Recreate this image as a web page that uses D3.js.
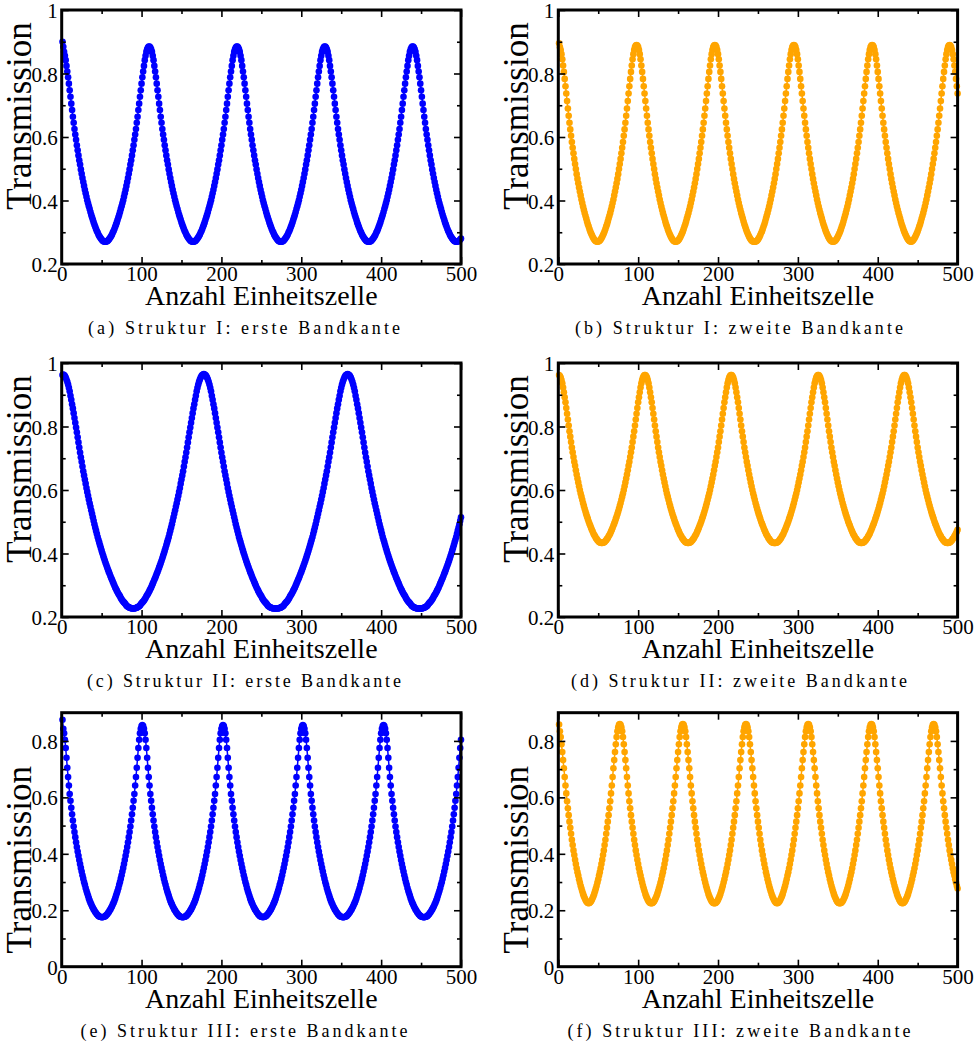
<!DOCTYPE html>
<html><head><meta charset="utf-8">
<script src="https://cdn.jsdelivr.net/npm/d3@7"></script>
<style>body{margin:0;background:#fff}svg{display:block}</style>
</head><body>
<svg id="fig" width="974" height="1048"></svg>
<script>
// Transmission (x1000) for unit-cell counts N = 1..500, one array per panel.
const transA = [900,884,868,856,842,824,806,788,768,747,727,705,685,664,645,625,608,591,574,558,542,527,513,498,484,471,458,446,434,423,412,401,391,382,373,364,355,347,339,331,324,317,310,304,299,293,288,284,280,277,274,272,271,270,
270,271,272,274,277,280,284,288,293,299,304,310,317,324,331,339,347,355,364,373,382,391,401,412,423,434,446,458,471,484,498,513,527,542,558,574,591,608,625,645,664,685,705,727,747,768,788,806,824,842,856,868,876,882,885,
885,882,876,868,856,842,824,806,788,768,747,727,705,685,664,645,625,608,591,574,558,542,527,513,498,484,471,458,446,434,423,412,401,391,382,373,364,355,347,339,331,324,317,310,304,299,293,288,284,280,277,274,272,271,270,
270,271,272,274,277,280,284,288,293,299,304,310,317,324,331,339,347,355,364,373,382,391,401,412,423,434,446,458,471,484,498,513,527,542,558,574,591,608,625,645,664,685,705,727,747,768,788,806,824,842,856,868,876,882,885,
885,882,876,868,856,842,824,806,788,768,747,727,705,685,664,645,625,608,591,574,558,542,527,513,498,484,471,458,446,434,423,412,401,391,382,373,364,355,347,339,331,324,317,310,304,299,293,288,284,280,277,274,272,271,270,
270,271,272,274,277,280,284,288,293,299,304,310,317,324,331,339,347,355,364,373,382,391,401,412,423,434,446,458,471,484,498,513,527,542,558,574,591,608,625,645,664,685,705,727,747,768,788,806,824,842,856,868,876,882,885,
885,882,876,868,856,842,824,806,788,768,747,727,705,685,664,645,625,608,591,574,558,542,527,513,498,484,471,458,446,434,423,412,401,391,382,373,364,355,347,339,331,324,317,310,304,299,293,288,284,280,277,274,272,271,270,
270,271,272,274,277,280,284,288,293,299,304,310,317,324,331,339,347,355,364,373,382,391,401,412,423,434,446,458,471,484,498,513,527,542,558,574,591,608,625,645,664,685,705,727,747,768,788,806,824,842,856,868,876,882,885,
885,882,876,868,856,842,824,806,788,768,747,727,705,685,664,645,625,608,591,574,558,542,527,513,498,484,471,458,446,434,423,412,401,391,382,373,364,355,347,339,331,324,317,310,304,299,293,288,284,280,277,274,272,271,270,
270,271,272,274,277,280];

const transB = [895,883,874,861,845,825,805,783,760,737,713,690,667,645,624,604,584,566,549,531,515,499,483,468,454,441,428,416,403,392,381,371,361,352,343,334,325,318,310,303,297,291,286,281,277,274,272,271,270,
271,272,274,277,281,286,291,297,303,310,318,325,334,343,352,361,371,381,392,403,416,428,441,454,468,483,499,515,531,549,566,584,604,624,645,667,690,713,737,760,783,805,825,845,861,874,883,888,890,
888,883,874,861,845,825,805,783,760,737,713,690,667,645,624,604,584,566,549,531,515,499,483,468,454,441,428,416,403,392,381,371,361,352,343,334,325,318,310,303,297,291,286,281,277,274,272,271,270,
271,272,274,277,281,286,291,297,303,310,318,325,334,343,352,361,371,381,392,403,416,428,441,454,468,483,499,515,531,549,566,584,604,624,645,667,690,713,737,760,783,805,825,845,861,874,883,888,890,
888,883,874,861,845,825,805,783,760,737,713,690,667,645,624,604,584,566,549,531,515,499,483,468,454,441,428,416,403,392,381,371,361,352,343,334,325,318,310,303,297,291,286,281,277,274,272,271,270,
270,271,272,274,277,281,286,291,297,303,310,318,325,334,343,352,361,371,381,392,403,416,428,441,454,468,483,499,515,531,549,566,584,604,624,645,667,690,713,737,760,783,805,825,845,861,874,883,888,890,
888,883,874,861,845,825,805,783,760,737,713,690,667,645,624,604,584,566,549,531,515,499,483,468,454,441,428,416,403,392,381,371,361,352,343,334,325,318,310,303,297,291,286,281,277,274,272,271,270,
271,272,274,277,281,286,291,297,303,310,318,325,334,343,352,361,371,381,392,403,416,428,441,454,468,483,499,515,531,549,566,584,604,624,645,667,690,713,737,760,783,805,825,845,861,874,883,888,890,
888,883,874,861,845,825,805,783,760,737,713,690,667,645,624,604,584,566,549,531,515,499,483,468,454,441,428,416,403,392,381,371,361,352,343,334,325,318,310,303,297,291,286,281,277,274,272,271,270,
272,274,277,281,286,291,297,303,310,318,325,334,343,352,361,371,381,392,403,416,428,441,454,468,483,499,515,531,549,566,584,604,624,645,667,690,713,737,760,783,805,825,845,861,874,883,888,890,
888,883,874,861,845,825,805,783,760,737];

const transC = [962,
964,962,959,954,948,941,932,922,911,897,884,870,857,842,827,812,797,782,766,750,734,718,703,689,674,659,646,633,620,606,594,582,570,558,547,536,525,514,503,492,482,472,462,452,443,435,426,417,409,401,393,385,377,370,363,356,349,342,336,329,323,317,311,305,299,293,288,283,278,273,269,265,260,256,252,249,246,243,240,236,234,232,231,229,228,228,227,227,
227,227,228,228,229,231,232,234,236,240,243,246,249,252,256,260,265,269,273,278,283,288,293,299,305,311,317,323,329,336,342,349,356,363,370,377,385,393,401,409,417,426,435,443,452,462,472,482,492,503,514,525,536,547,558,570,582,594,606,620,633,646,659,674,689,703,718,734,750,766,782,797,812,827,842,857,870,884,897,911,922,932,941,948,954,959,962,964,965,
964,962,959,954,948,941,932,922,911,897,884,870,857,842,827,812,797,782,766,750,734,718,703,689,674,659,646,633,620,606,594,582,570,558,547,536,525,514,503,492,482,472,462,452,443,435,426,417,409,401,393,385,377,370,363,356,349,342,336,329,323,317,311,305,299,293,288,283,278,273,269,265,260,256,252,249,246,243,240,236,234,232,231,229,228,228,227,227,227,227,
227,227,227,228,228,229,231,232,234,236,240,243,246,249,252,256,260,265,269,273,278,283,288,293,299,305,311,317,323,329,336,342,349,356,363,370,377,385,393,401,409,417,426,435,443,452,462,472,482,492,503,514,525,536,547,558,570,582,594,606,620,633,646,659,674,689,703,718,734,750,766,782,797,812,827,842,857,870,884,897,911,922,932,941,948,954,959,962,964,965,
964,962,959,954,948,941,932,922,911,897,884,870,857,842,827,812,797,782,766,750,734,718,703,689,674,659,646,633,620,606,594,582,570,558,547,536,525,514,503,492,482,472,462,452,443,435,426,417,409,401,393,385,377,370,363,356,349,342,336,329,323,317,311,305,299,293,288,283,278,273,269,265,260,256,252,249,246,243,240,236,234,232,231,229,228,228,227,227,227,227,
227,227,227,228,228,229,231,232,234,236,240,243,246,249,252,256,260,265,269,273,278,283,288,293,299,305,311,317,323,329,336,342,349,356,363,370,377,385,393,401,409,417,426,435,443,452,462,472,482,492,503,514];

const transD = [962,959,954,946,936,923,908,892,876,858,840,822,803,785,768,751,734,719,704,689,676,662,649,636,624,612,600,589,579,569,559,550,541,532,524,516,509,501,494,488,481,475,469,463,458,454,449,446,442,439,436,435,434,433,
433,434,435,436,439,442,446,449,454,458,463,469,475,481,488,494,501,509,516,524,532,541,550,559,569,579,589,600,612,624,636,649,662,676,689,704,719,734,751,768,785,803,822,840,858,876,892,908,923,936,946,954,959,962,
962,959,954,946,936,923,908,892,876,858,840,822,803,785,768,751,734,719,704,689,676,662,649,636,624,612,600,589,579,569,559,550,541,532,524,516,509,501,494,488,481,475,469,463,458,454,449,446,442,439,436,435,434,433,
433,434,435,436,439,442,446,449,454,458,463,469,475,481,488,494,501,509,516,524,532,541,550,559,569,579,589,600,612,624,636,649,662,676,689,704,719,734,751,768,785,803,822,840,858,876,892,908,923,936,946,954,959,962,
962,959,954,946,936,923,908,892,876,858,840,822,803,785,768,751,734,719,704,689,676,662,649,636,624,612,600,589,579,569,559,550,541,532,524,516,509,501,494,488,481,475,469,463,458,454,449,446,442,439,436,435,434,433,433,
433,434,435,436,439,442,446,449,454,458,463,469,475,481,488,494,501,509,516,524,532,541,550,559,569,579,589,600,612,624,636,649,662,676,689,704,719,734,751,768,785,803,822,840,858,876,892,908,923,936,946,954,959,962,
962,959,954,946,936,923,908,892,876,858,840,822,803,785,768,751,734,719,704,689,676,662,649,636,624,612,600,589,579,569,559,550,541,532,524,516,509,501,494,488,481,475,469,463,458,454,449,446,442,439,436,435,434,433,
433,434,435,436,439,442,446,449,454,458,463,469,475,481,488,494,501,509,516,524,532,541,550,559,569,579,589,600,612,624,636,649,662,676,689,704,719,734,751,768,785,803,822,840,858,876,892,908,923,936,946,954,959,962,
962,959,954,946,936,923,908,892,876,858,840,822,803,785,768,751,734,719,704,689,676,662,649,636,624,612,600,589,579,569,559,550,541,532,524,516,509,501,494,488,481,475,469,463,458,454,449,446,442,439,436,435,434,433,
433,434,435,436,439,442,446,449,454,458,463,469,475];

const transE = [875,843,827,804,775,740,705,672,642,612,588,563,540,518,497,477,459,441,424,408,393,378,364,350,337,324,312,300,290,279,269,260,251,242,234,227,221,214,209,203,199,194,190,186,183,180,178,177,176,175,
175,176,177,178,180,183,186,190,194,199,203,209,214,221,227,234,242,251,260,269,279,290,300,312,324,337,350,364,378,393,408,424,441,459,477,497,518,540,563,588,612,642,672,705,740,775,804,827,843,853,856,
853,843,827,804,775,740,705,672,642,612,588,563,540,518,497,477,459,441,424,408,393,378,364,350,337,324,312,300,290,279,269,260,251,242,234,227,221,214,209,203,199,194,190,186,183,180,178,177,176,175,
175,176,177,178,180,183,186,190,194,199,203,209,214,221,227,234,242,251,260,269,279,290,300,312,324,337,350,364,378,393,408,424,441,459,477,497,518,540,563,588,612,642,672,705,740,775,804,827,843,853,856,
853,843,827,804,775,740,705,672,642,612,588,563,540,518,497,477,459,441,424,408,393,378,364,350,337,324,312,300,290,279,269,260,251,242,234,227,221,214,209,203,199,194,190,186,183,180,178,177,176,175,
176,177,178,180,183,186,190,194,199,203,209,214,221,227,234,242,251,260,269,279,290,300,312,324,337,350,364,378,393,408,424,441,459,477,497,518,540,563,588,612,642,672,705,740,775,804,827,843,853,856,
853,843,827,804,775,740,705,672,642,612,588,563,540,518,497,477,459,441,424,408,393,378,364,350,337,324,312,300,290,279,269,260,251,242,234,227,221,214,209,203,199,194,190,186,183,180,178,177,176,175,
175,176,177,178,180,183,186,190,194,199,203,209,214,221,227,234,242,251,260,269,279,290,300,312,324,337,350,364,378,393,408,424,441,459,477,497,518,540,563,588,612,642,672,705,740,775,804,827,843,853,856,
853,843,827,804,775,740,705,672,642,612,588,563,540,518,497,477,459,441,424,408,393,378,364,350,337,324,312,300,290,279,269,260,251,242,234,227,221,214,209,203,199,194,190,186,183,180,178,177,176,175,
175,176,177,178,180,183,186,190,194,199,203,209,214,221,227,234,242,251,260,269,279,290,300,312,324,337,350,364,378,393,408,424,441,459,477,497,518,540,563,588,612,642,672,705,740,775,804];

const transF = [858,834,814,788,761,732,703,672,642,614,586,561,537,514,492,471,450,431,412,396,379,364,349,335,323,310,298,287,277,267,258,250,243,237,232,228,226,225,
226,228,232,237,243,250,258,267,277,287,298,310,323,335,349,364,379,396,412,431,450,471,492,514,537,561,586,614,642,672,703,732,761,788,814,834,848,857,860,
857,848,834,814,788,761,732,703,672,642,614,586,561,537,514,492,471,450,431,412,396,379,364,349,335,323,310,298,287,277,267,258,250,243,237,232,228,226,225,
225,226,228,232,237,243,250,258,267,277,287,298,310,323,335,349,364,379,396,412,431,450,471,492,514,537,561,586,614,642,672,703,732,761,788,814,834,848,857,860,
857,848,834,814,788,761,732,703,672,642,614,586,561,537,514,492,471,450,431,412,396,379,364,349,335,323,310,298,287,277,267,258,250,243,237,232,228,226,225,
225,226,228,232,237,243,250,258,267,277,287,298,310,323,335,349,364,379,396,412,431,450,471,492,514,537,561,586,614,642,672,703,732,761,788,814,834,848,857,860,
857,848,834,814,788,761,732,703,672,642,614,586,561,537,514,492,471,450,431,412,396,379,364,349,335,323,310,298,287,277,267,258,250,243,237,232,228,226,225,
226,228,232,237,243,250,258,267,277,287,298,310,323,335,349,364,379,396,412,431,450,471,492,514,537,561,586,614,642,672,703,732,761,788,814,834,848,857,860,
857,848,834,814,788,761,732,703,672,642,614,586,561,537,514,492,471,450,431,412,396,379,364,349,335,323,310,298,287,277,267,258,250,243,237,232,228,226,225,
225,226,228,232,237,243,250,258,267,277,287,298,310,323,335,349,364,379,396,412,431,450,471,492,514,537,561,586,614,642,672,703,732,761,788,814,834,848,857,860,
857,848,834,814,788,761,732,703,672,642,614,586,561,537,514,492,471,450,431,412,396,379,364,349,335,323,310,298,287,277,267,258,250,243,237,232,228,226,225,
226,228,232,237,243,250,258,267,277,287,298,310,323,335,349,364,379,396,412,431,450,471,492,514,537,561,586,614,642,672,703,732,761,788,814,834,848,857,860,
857,848,834,814,788,761,732,703,672,642,614,586,561,537,514,492,471,450,431,412,396,379,364,349,335,323,310,298,287,277];

// Axis ticks and labels
const xTicks = [0, 100, 200, 300, 400, 500];
const xMinorTicks = [50, 150, 250, 350, 450];
const yTicksUpper = [0.2, 0.4, 0.6, 0.8, 1];
const yLabelsUpper = ["0.2", "0.4", "0.6", "0.8", "1"];
const yMinorUpper = [0.3, 0.5, 0.7, 0.9];
const yTicksLower = [0, 0.2, 0.4, 0.6, 0.8];
const yLabelsLower = ["0", "0.2", "0.4", "0.6", "0.8"];
const yMinorLower = [0.1, 0.3, 0.5, 0.7];
const captions = [
  "(a) Struktur I: erste Bandkante", "(b) Struktur I: zweite Bandkante",
  "(c) Struktur II: erste Bandkante", "(d) Struktur II: zweite Bandkante",
  "(e) Struktur III: erste Bandkante", "(f) Struktur III: zweite Bandkante"
];
const xTitle = "Anzahl Einheitszelle";
const yTitle = "Transmission";

const BLUE = "#0000ff", ORANGE = "#ffa500";
const series = [transA, transB, transC, transD, transE, transF];

// Layout of the 3x2 grid of frames
const colLeft = [61.7, 558.3];
const rowTop = [10, 363, 712.7];
const plotW = 399.3, plotH = 254;
const yTitleShift = [-21, -21, 20];
const captionX = [244, 739];
const captionW = [[312, 328], [314, 336], [327, 343]];
const SERIF = "'Liberation Serif', 'Times New Roman', serif";

const svg = d3.select("#fig");

series.forEach((values, k) => {
  const col = k % 2, row = Math.floor(k / 2);
  const left = colLeft[col], top = rowTop[row];
  const upper = row < 2;
  const color = col === 0 ? BLUE : ORANGE;

  const x = d3.scaleLinear().domain([0, 500]).range([left, left + plotW]);
  const y = d3.scaleLinear().domain(upper ? [0.2, 1] : [0, 0.9]).range([top + plotH, top]);
  const majorY = upper ? yTicksUpper : yTicksLower;
  const labelsY = upper ? yLabelsUpper : yLabelsLower;
  const minorY = upper ? yMinorUpper : yMinorLower;

  const g = svg.append("g");

  // connecting line and markers
  const plotG = g.append("g");
  plotG.append("path")
    .datum(values)
    .attr("d", d3.line().x((v, i) => x(i + 1)).y(v => y(v / 1000)))
    .attr("fill", "none").attr("stroke", color).attr("stroke-width", 1.5);
  plotG.selectAll("circle").data(values).join("circle")
    .attr("cx", (v, i) => x(i + 1)).attr("cy", v => y(v / 1000))
    .attr("r", 3.3).attr("fill", color);

  // inward ticks on all four sides
  const tickStyle = sel => {
    sel.select(".domain").remove();
    sel.selectAll(".tick line").attr("stroke", "#000").attr("stroke-width", 1.6);
  };
  const bottom = g.append("g").attr("transform", `translate(0,${top + plotH})`)
    .call(d3.axisBottom(x).tickValues(xTicks).tickSize(-7).tickPadding(0).tickFormat(d => String(d)));
  tickStyle(bottom);
  bottom.selectAll(".tick text").attr("dy", null).attr("y", 17)
    .attr("font-family", SERIF).attr("font-size", 21).attr("fill", "#000");
  g.append("g").attr("transform", `translate(0,${top + plotH})`)
    .call(d3.axisBottom(x).tickValues(xMinorTicks).tickSize(-4).tickFormat("")).call(tickStyle);
  g.append("g").attr("transform", `translate(0,${top})`)
    .call(d3.axisTop(x).tickValues(xTicks).tickSize(-7).tickFormat("")).call(tickStyle);
  g.append("g").attr("transform", `translate(0,${top})`)
    .call(d3.axisTop(x).tickValues(xMinorTicks).tickSize(-4).tickFormat("")).call(tickStyle);

  const leftAx = g.append("g").attr("transform", `translate(${left},0)`)
    .call(d3.axisLeft(y).tickValues(majorY).tickSize(-7).tickPadding(4)
      .tickFormat((d, i) => labelsY[i]));
  tickStyle(leftAx);
  leftAx.selectAll(".tick text").attr("dy", "0.36em")
    .attr("font-family", SERIF).attr("font-size", 21).attr("fill", "#000");
  g.append("g").attr("transform", `translate(${left},0)`)
    .call(d3.axisLeft(y).tickValues(minorY).tickSize(-4).tickFormat("")).call(tickStyle);
  g.append("g").attr("transform", `translate(${left + plotW},0)`)
    .call(d3.axisRight(y).tickValues(majorY).tickSize(-7).tickFormat("")).call(tickStyle);
  g.append("g").attr("transform", `translate(${left + plotW},0)`)
    .call(d3.axisRight(y).tickValues(minorY).tickSize(-4).tickFormat("")).call(tickStyle);

  // frame
  g.append("rect").attr("x", left).attr("y", top).attr("width", plotW).attr("height", plotH)
    .attr("fill", "none").attr("stroke", "#000").attr("stroke-width", 3);

  // axis titles
  g.append("text").attr("x", left + plotW / 2).attr("y", top + plotH + 41)
    .attr("text-anchor", "middle").attr("font-family", SERIF).attr("font-size", 28)
    .text(xTitle);
  g.append("text")
    .attr("transform", `translate(${left - 30.7},${top + plotH / 2 + yTitleShift[row]}) rotate(-90)`)
    .attr("text-anchor", "middle").attr("font-family", SERIF).attr("font-size", 35)
    .text(yTitle);

  // sub-figure caption
  g.append("text").attr("x", captionX[col]).attr("y", top + plotH + 70)
    .attr("text-anchor", "middle").attr("font-family", SERIF).attr("font-size", 18)
    .attr("textLength", captionW[row][col]).attr("lengthAdjust", "spacing")
    .text(captions[k]);
});
</script>
</body></html>
